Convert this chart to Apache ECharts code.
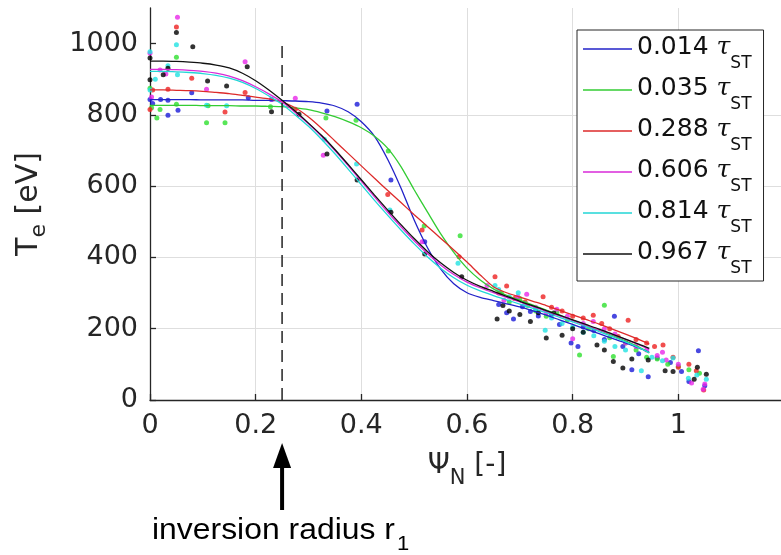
<!DOCTYPE html>
<html><head><meta charset="utf-8">
<script src="https://cdn.jsdelivr.net/npm/echarts@6/dist/echarts.min.js"></script>
<style>html,body{margin:0;padding:0;background:#fff}#c{width:781px;height:555px}</style>
</head><body><div id="c"></div><script>
// ---------- data ----------
const seriesNames = ['0.014', '0.035', '0.288', '0.606', '0.814', '0.967'];
const xTickValues = [0, 0.2, 0.4, 0.6, 0.8, 1];
const yTickValues = [0, 200, 400, 600, 800, 1000];
const inversionRadius = 0.25;
const dashedTop = 1000;

const fitX = [0, 0.025, 0.05, 0.075, 0.1, 0.125, 0.15, 0.175, 0.2, 0.225, 0.25, 0.275, 0.3, 0.325, 0.35, 0.375, 0.4, 0.425, 0.45, 0.475, 0.5, 0.525, 0.55, 0.575, 0.6, 0.625, 0.65, 0.675, 0.7, 0.725, 0.75, 0.775, 0.8, 0.825, 0.85, 0.875, 0.9, 0.925, 0.945];
const fit_0014 = [843,843,843,843,842, 842,842,842,841,841, 840,839,837,833,825, 809,781,740,675,595, 505,428,368,326,301, 288,279,270,261,250, 238,225,212,199,186, 173,160,146,134];
const fit_0035 = [827,827,827,827,826, 826,826,825,825,824, 823,820,815,806,795, 781,764,740,706,655, 590,528,467,414,370, 337,312,294,280,266, 252,238,224,210,196, 181,166,149,132];
const fit_0288 = [870,870,869,868,866, 863,860,855,850,845, 836,820,794,762,727, 692,657,622,588,554, 520,487,454,421,387, 351,318,301,289,277, 265,252,239,226,213, 199,185,170,157];
const fit_0606 = [928,928,927,925,922, 917,909,896,879,859, 836,807,775,739,700, 658,614,570,527,486, 447,411,379,352,331, 315,301,288,275,262, 249,236,223,210,197, 184,170,155,142];
const fit_0814 = [922,922,921,919,916, 911,903,891,874,853, 830,800,768,731,691, 648,604,560,518,477, 438,402,370,343,322, 306,293,281,269,257, 245,232,219,206,192, 178,163,147,133];
const fit_0967 = [951,951,950,948,945, 940,932,917,896,870, 841,810,777,742,703, 661,618,575,533,492, 453,417,385,358,336, 319,305,291,277,264, 251,238,225,212,199, 185,171,157,145];

const pts_0014 = [[0.0,843],[0.005,832],[0.02,843],[0.034,799],[0.034,841],[0.053,813],[0.079,862],[0.186,848],[0.23,843],[0.335,811],[0.392,830],[0.456,617],[0.52,444],
  [0.66,268],[0.675,245],[0.688,227],[0.705,262],[0.72,248],[0.735,236],[0.76,240],[0.775,212],[0.797,160],[0.81,150],[0.82,205],[0.84,195],[0.86,170],[0.879,235],[0.895,150],[0.912,85],[0.925,130],[0.943,65],[0.96,118],[0.985,105],[1.006,80],[1.02,52],[1.038,138],[1.05,40]];
const pts_0035 = [[0.0,875],[0.003,820],[0.013,791],[0.019,815],[0.05,962],[0.05,830],[0.107,778],[0.142,778],[0.11,826],[0.228,823],[0.333,791],[0.39,785],[0.451,699],[0.519,488],[0.587,461],
  [0.665,300],[0.68,275],[0.7,285],[0.715,265],[0.73,250],[0.75,235],[0.77,245],[0.79,225],[0.813,126],[0.83,200],[0.86,266],[0.87,175],[0.877,122],[0.9,160],[0.92,140],[0.94,120],[0.96,115],[0.98,100],[1.0,95],[1.02,85],[1.04,75]];
const pts_0288 = [[0.0,815],[0.005,870],[0.034,872],[0.05,1047],[0.079,903],[0.142,808],[0.18,863],[0.275,816],[0.45,577],[0.515,477],[0.585,402],[0.653,346],
  [0.66,300],[0.675,320],[0.69,285],[0.71,275],[0.744,290],[0.76,260],[0.78,250],[0.8,235],[0.82,230],[0.839,238],[0.855,215],[0.87,200],[0.886,178],[0.905,224],[0.92,170],[0.94,160],[0.955,150],[0.971,154],[0.99,120],[1.0,92],[1.02,100],[1.034,82],[1.048,28]];
const pts_0606 = [[0.0,973],[0.003,850],[0.019,926],[0.03,915],[0.052,1074],[0.107,872],[0.18,949],[0.23,844],[0.275,847],[0.328,687],[0.515,444],[0.638,321],
  [0.67,280],[0.696,290],[0.713,297],[0.73,260],[0.75,245],[0.77,255],[0.79,235],[0.8,172],[0.82,215],[0.839,220],[0.86,200],[0.88,185],[0.9,160],[0.92,150],[0.94,140],[0.96,125],[0.977,112],[0.97,134],[1.0,100],[1.025,48],[1.047,30],[1.05,45]];
const pts_0814 = [[0.0,977],[0.0,870],[0.01,900],[0.034,938],[0.05,997],[0.052,913],[0.107,827],[0.145,826],[0.33,732],[0.391,662],[0.454,533],[0.583,384],[0.653,321],
  [0.66,310],[0.68,290],[0.697,301],[0.71,270],[0.73,255],[0.748,196],[0.76,230],[0.78,215],[0.8,205],[0.82,190],[0.84,180],[0.86,165],[0.88,150],[0.9,140],[0.93,82],[0.95,120],[0.97,110],[0.99,118],[1.019,61],[1.035,70],[1.053,58]];
const pts_0967 = [[0.0,899],[0.0,960],[0.025,913],[0.034,931],[0.05,1031],[0.081,991],[0.109,895],[0.145,881],[0.184,935],[0.23,809],[0.282,802],[0.335,690],[0.392,617],[0.456,527],[0.52,410],[0.59,346],
  [0.657,227],[0.668,265],[0.68,250],[0.7,240],[0.72,220],[0.735,245],[0.75,174],[0.764,244],[0.78,182],[0.8,200],[0.82,190],[0.846,154],[0.86,140],[0.877,108],[0.895,90],[0.912,115],[0.943,112],[0.975,82],[0.99,80],[1.036,92],[1.053,72],[1.03,58]];

const fits = [fit_0014, fit_0035, fit_0288, fit_0606, fit_0814, fit_0967];
const pts = [pts_0014, pts_0035, pts_0288, pts_0606, pts_0814, pts_0967];

// ---------- styles ----------
const lineColors = ['#2222c8', '#33cc33', '#dd2a2a', '#d82ad8', '#22d6d6', '#111111'];
const dotColors  = ['#1a1ad8', '#2ee02e', '#ee2222', '#e828e8', '#22e2e2', '#000000'];
const FONT = 'DejaVu Sans';
const AX = '#262626';

const series = [];
seriesNames.forEach((n, i) => {
  series.push({
    name: n + ' pts', type: 'scatter', symbol: 'circle', symbolSize: 5,
    itemStyle: { color: dotColors[i] }, data: pts[i], z: 2, silent: true
  });
});
seriesNames.forEach((n, i) => {
  series.push({
    name: n, type: 'line', showSymbol: false, symbol: 'none', smooth: 0.25,
    lineStyle: { color: lineColors[i], width: 1.3 }, itemStyle: { color: lineColors[i] },
    data: fitX.map((x, k) => [x, fits[i][k]]), z: 3, silent: true
  });
});
series.push({
  name: 'inv', type: 'line', symbol: 'none', silent: true, z: 4,
  lineStyle: { color: '#222', width: 1.5, type: [12, 7] },
  data: [[inversionRadius, 0], [inversionRadius, dashedTop]]
});

const chart = echarts.init(document.getElementById('c'), null, { renderer: 'canvas' });
const option = {
  animation: false,
  backgroundColor: '#fff',
  grid: { left: 150, right: -3, top: 8, bottom: 155, containLabel: false, outerBoundsMode: 'none' },
  xAxis: {
    type: 'value', min: 0, max: 1.2, interval: 0.2,
    name: '{a|Ψ}{b|N}{a| [-]}', nameLocation: 'middle', nameGap: 52,
    nameTextStyle: { rich: {
      a: { fontFamily: FONT, fontSize: 28, color: AX, lineHeight: 32, verticalAlign: 'top' },
      b: { fontFamily: FONT, fontSize: 21, color: AX, lineHeight: 21, padding: [16, 0, 0, 0], verticalAlign: 'top' } } },
    axisLine: { show: true, lineStyle: { color: AX, width: 1.3 } },
    axisTick: { show: true, inside: true, length: 6, lineStyle: { color: AX, width: 1.3 }, customValues: xTickValues },
    axisLabel: { fontFamily: FONT, fontSize: 27, color: AX, margin: 12, customValues: xTickValues, formatter: v => String(v) },
    splitLine: { show: true, lineStyle: { color: '#dedede', width: 1 } }
  },
  yAxis: {
    type: 'value', min: 0, max: 1100, interval: 200,
    name: '{a|T}{b|e}{a| [eV]}', nameLocation: 'middle', nameGap: 104, nameRotate: 90,
    nameTextStyle: { rich: {
      a: { fontFamily: FONT, fontSize: 30, color: AX, lineHeight: 32, verticalAlign: 'top' },
      b: { fontFamily: FONT, fontSize: 22, color: AX, lineHeight: 22, padding: [14, 0, 0, 0], verticalAlign: 'top' } } },
    axisLine: { show: true, lineStyle: { color: AX, width: 1.3 } },
    axisTick: { show: true, inside: true, length: 6, lineStyle: { color: AX, width: 1.3 }, customValues: yTickValues },
    axisLabel: { fontFamily: FONT, fontSize: 27, color: AX, margin: 12, customValues: yTickValues, formatter: v => String(v) },
    splitLine: { show: true, showMaxLine: false, lineStyle: { color: ['#dedede','#dedede','#dedede','#dedede','#dedede','#dedede','rgba(0,0,0,0)'], width: 1 } }
  },
  legend: {
    data: seriesNames.map(n => ({ name: n, icon: 'rect' })),
    orient: 'vertical', left: 577, top: 30,
    padding: [5, 12, 4, 6], itemWidth: 49, itemHeight: 1.5, itemGap: 4,
    backgroundColor: '#fff', borderColor: AX, borderWidth: 1, borderRadius: 0,
    selectedMode: false,
    formatter: n => '{n|' + n + ' }{t|τ}{s|ST}',
    textStyle: { rich: {
      n: { fontFamily: FONT, fontSize: 25, color: '#111', lineHeight: 28, verticalAlign: 'top' },
      t: { fontFamily: 'DejaVu Serif', fontStyle: 'italic', fontSize: 25, color: '#111', lineHeight: 28, verticalAlign: 'top' },
      s: { fontFamily: FONT, fontSize: 17, color: '#111', lineHeight: 17, padding: [20, 0, 0, 0], verticalAlign: 'top' } } }
  },
  series: series
};
chart.setOption(option);

// annotation: arrow + text at the inversion radius
const ax = chart.convertToPixel({ xAxisIndex: 0 }, inversionRadius);
chart.setOption({
  graphic: [
    { type: 'polygon', shape: { points: [[ax - 9, 468], [ax + 9, 468], [ax, 443]] }, style: { fill: '#000' }, silent: true },
    { type: 'rect', shape: { x: ax - 2, y: 465, width: 4, height: 45 }, style: { fill: '#000' }, silent: true },
    { type: 'text', x: 152, y: 516, scaleX: 1.1, silent: true,
      style: { text: '{m|inversion radius r}{s|1}', rich: {
        m: { fontFamily: 'Liberation Sans', fontSize: 29, fill: '#000', lineHeight: 32, verticalAlign: 'top' },
        s: { fontFamily: 'Liberation Sans', fontSize: 20, fill: '#000', lineHeight: 20, padding: [18, 0, 0, 2], verticalAlign: 'top' } } } }
  ]
});
</script></body></html>
